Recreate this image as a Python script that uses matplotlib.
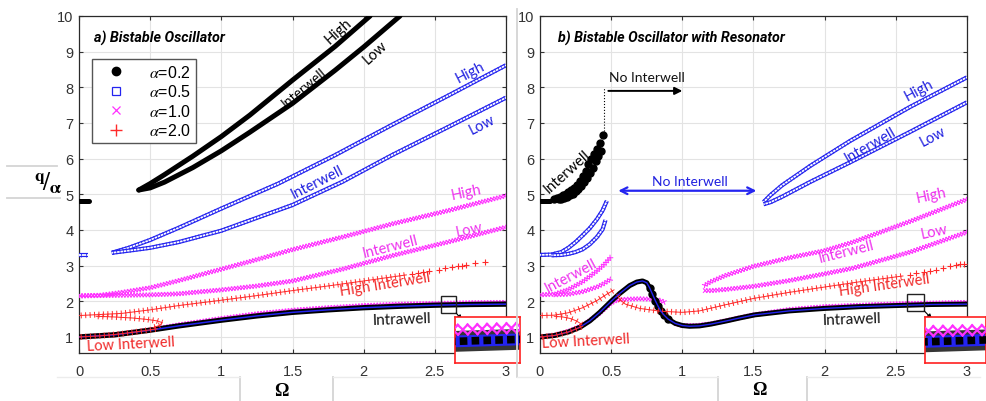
import numpy as np
import matplotlib
matplotlib.use("Agg")
import matplotlib.pyplot as plt
import matplotlib.patheffects as pe
from matplotlib.lines import Line2D
from matplotlib.patches import Rectangle

plt.rcParams['mathtext.fontset'] = 'stix'
plt.rcParams['font.family'] = ['Liberation Sans', 'DejaVu Sans']

# ------------------------------------------------------------------ data
# ---- panel a) Bistable oscillator
a_intra_w = [0.0, 0.25, 0.5, 0.7, 1.0, 1.25, 1.5, 1.75, 2.0, 2.25, 2.5, 2.75, 3.0]
a_intra_02 = [1.0, 1.06, 1.19, 1.31, 1.47, 1.59, 1.69, 1.76, 1.82, 1.86, 1.89, 1.91, 1.92]
a_intra_10 = [1.0, 1.06, 1.20, 1.34, 1.52, 1.65, 1.75, 1.82, 1.88, 1.92, 1.94, 1.96, 1.97]

a_seg02_w = [0.0, 0.07]
a_seg02_q = [4.82, 4.82]
a_seg05_w = [0.0, 0.06]
a_seg05_q = [3.30, 3.30]

a_hi02_w = [0.42, 0.5, 0.6, 0.8, 1.0, 1.2, 1.5, 1.8, 2.045]
a_hi02_q = [5.12, 5.30, 5.55, 6.07, 6.62, 7.22, 8.20, 9.15, 10.0]
a_lo02_w = [0.42, 0.5, 0.6, 0.8, 1.0, 1.2, 1.5, 1.8, 2.0, 2.255]
a_lo02_q = [5.12, 5.18, 5.34, 5.75, 6.22, 6.74, 7.55, 8.48, 9.13, 10.0]

a_hi05_w = [0.23, 0.35, 0.5, 0.7, 1.0, 1.4, 1.8, 2.2, 2.6, 3.0]
a_hi05_q = [3.36, 3.50, 3.72, 4.06, 4.60, 5.30, 6.10, 6.95, 7.78, 8.62]
a_lo05_w = [0.23, 0.35, 0.5, 0.7, 1.0, 1.5, 1.85, 2.2, 2.6, 3.0]
a_lo05_q = [3.36, 3.42, 3.50, 3.66, 3.98, 4.70, 5.35, 6.10, 6.90, 7.71]

a_hi10_w = [0.0, 0.15, 0.3, 0.5, 0.7, 1.0, 1.25, 1.5, 1.85, 2.2, 2.6, 3.0]
a_hi10_q = [2.15, 2.17, 2.25, 2.38, 2.58, 2.90, 3.17, 3.45, 3.80, 4.17, 4.55, 4.96]
a_lo10_w = [0.0, 0.3, 0.5, 0.7, 1.0, 1.25, 1.5, 1.85, 2.2, 2.6, 3.0]
a_lo10_q = [2.15, 2.17, 2.18, 2.21, 2.32, 2.43, 2.57, 2.90, 3.28, 3.67, 4.08]

a_hi20_w = [0.0, 0.3, 0.5, 0.7, 1.0, 1.25, 1.5, 1.75, 2.0, 2.3]
a_hi20_q = [1.60, 1.66, 1.76, 1.88, 2.03, 2.16, 2.30, 2.43, 2.57, 2.74]
a_sp20_w = [2.34, 2.38, 2.42, 2.46, 2.53, 2.57, 2.62, 2.66, 2.69, 2.72, 2.78, 2.85]
a_sp20_q = [2.76, 2.79, 2.82, 2.84, 2.89, 2.92, 2.95, 2.98, 3.00, 3.02, 3.06, 3.10]
a_lo20_w = [0.12, 0.25, 0.38, 0.48, 0.55, 0.585, 0.57, 0.52]
a_lo20_q = [1.58, 1.56, 1.53, 1.49, 1.45, 1.40, 1.33, 1.26]
a_lo20b_w = [0.0, 0.15, 0.3, 0.45, 0.55]
a_lo20b_q = [1.0, 1.03, 1.09, 1.17, 1.23]

# ---- panel b) Bistable oscillator with resonator
b_intra_w = [0, 0.1, 0.2, 0.28, 0.35, 0.42, 0.5, 0.56, 0.63, 0.68, 0.72, 0.75, 0.77,
             0.79, 0.81, 0.83, 0.85, 0.87, 0.9, 0.95, 1.0, 1.05, 1.12, 1.2, 1.31, 1.4,
             1.51, 1.75, 2.0, 2.25, 2.5, 2.75, 3.0]
b_intra_02 = [1.0, 1.04, 1.14, 1.27, 1.45, 1.69, 2.0, 2.22, 2.44, 2.54, 2.57, 2.52, 2.38,
              2.20, 2.02, 1.86, 1.72, 1.62, 1.50, 1.38, 1.32, 1.30, 1.31, 1.36, 1.45, 1.53,
              1.62, 1.73, 1.80, 1.85, 1.88, 1.91, 1.92]
b_drop02_w = [0.77, 0.79, 0.81, 0.83, 0.85, 0.87, 0.9]
b_drop02_q = [2.38, 2.20, 2.02, 1.86, 1.72, 1.62, 1.50]
b_mi10_w = [0.0, 0.1, 0.2, 0.3, 0.4, 0.5, 0.55]
b_mi10_q = [1.0, 1.05, 1.16, 1.33, 1.60, 1.95, 2.05]
b_mi10b_w = [0.95, 1.0, 1.1, 1.2, 1.3, 1.5, 1.75, 2.0, 2.5, 3.0]
b_mi10b_q = [1.37, 1.32, 1.32, 1.37, 1.45, 1.62, 1.77, 1.85, 1.93, 1.97]
b_mid10_w = [0.55, 0.62, 0.7, 0.78, 0.84, 0.88]
b_mid10_q = [2.04, 2.06, 2.07, 2.06, 2.03, 1.97]

b_seg02_w = [0.0, 0.07]
b_seg02_q = [4.82, 4.82]
b_hi02_w = [0.10, 0.12, 0.14, 0.16, 0.18, 0.20, 0.22, 0.24, 0.26, 0.28, 0.30, 0.32,
            0.34, 0.36, 0.38, 0.40, 0.42, 0.445]
b_hi02_q = [4.88, 4.90, 4.93, 4.97, 5.01, 5.06, 5.12, 5.19, 5.27, 5.37, 5.50, 5.66,
            5.84, 6.00, 6.13, 6.28, 6.45, 6.65]
b_lo02_w = [0.13, 0.15, 0.17, 0.19, 0.21, 0.23, 0.25, 0.27, 0.29, 0.31, 0.33, 0.35,
            0.37, 0.39, 0.41, 0.43]
b_lo02_q = [4.87, 4.88, 4.90, 4.93, 4.97, 5.02, 5.08, 5.15, 5.24, 5.34, 5.46, 5.60,
            5.75, 5.92, 6.08, 6.22]

b_hi05_w = [0.0, 0.08, 0.15, 0.2, 0.25, 0.3, 0.35, 0.4, 0.44, 0.47]
b_hi05_q = [3.30, 3.31, 3.38, 3.50, 3.66, 3.85, 4.05, 4.30, 4.55, 4.82]
b_lo05_w = [0.08, 0.15, 0.2, 0.25, 0.3, 0.35, 0.4, 0.44, 0.46]
b_lo05_q = [3.29, 3.30, 3.33, 3.38, 3.46, 3.60, 3.80, 4.02, 4.28]
b_hi05r_w = [1.57, 1.62, 1.7, 1.9, 2.18, 2.6, 3.0]
b_hi05r_q = [4.78, 4.98, 5.25, 5.80, 6.50, 7.45, 8.28]
b_lo05r_w = [1.57, 1.62, 1.7, 1.9, 2.18, 2.6, 3.0]
b_lo05r_q = [4.72, 4.78, 4.93, 5.35, 5.90, 6.75, 7.58]

b_hi10_w = [0.0, 0.1, 0.2, 0.3, 0.4, 0.45, 0.5]
b_hi10_q = [2.18, 2.20, 2.33, 2.55, 2.85, 3.03, 3.25]
b_lo10_w = [0.1, 0.2, 0.3, 0.4, 0.45, 0.5]
b_lo10_q = [2.18, 2.20, 2.27, 2.40, 2.50, 2.63]
b_hi10r_w = [1.15, 1.2, 1.3, 1.5, 1.75, 2.0, 2.2, 2.6, 3.0]
b_hi10r_q = [2.43, 2.55, 2.72, 2.98, 3.22, 3.42, 3.66, 4.24, 4.86]
b_lo10r_w = [1.15, 1.2, 1.3, 1.5, 1.75, 2.0, 2.2, 2.6, 3.0]
b_lo10r_q = [2.30, 2.30, 2.33, 2.42, 2.58, 2.77, 2.93, 3.38, 3.94]

b_hi20_w = [0.0, 0.1, 0.2, 0.3, 0.4, 0.47, 0.52]
b_hi20_q = [1.60, 1.61, 1.68, 1.82, 2.02, 2.20, 2.32]
b_hr20_w = [0.54, 0.56, 0.6, 0.7, 0.85, 1.0, 1.12, 1.3, 1.5, 1.75, 2.0, 2.25, 2.55]
b_hr20_q = [2.20, 2.05, 1.92, 1.80, 1.72, 1.69, 1.73, 1.90, 2.08, 2.25, 2.40, 2.55, 2.71]
b_sp20_w = [2.6, 2.64, 2.7, 2.74, 2.78, 2.83, 2.88, 2.92, 2.95, 2.98]
b_sp20_q = [2.75, 2.78, 2.83, 2.86, 2.89, 2.93, 3.00, 3.03, 3.04, 3.05]
b_lo20_w = [0.1, 0.16, 0.21, 0.25, 0.28, 0.3]
b_lo20_q = [1.58, 1.56, 1.52, 1.46, 1.39, 1.32]
b_lo20b_w = [0.0, 0.1, 0.2, 0.3]
b_lo20b_q = [1.0, 1.04, 1.14, 1.30]

# annotation anchors (panel b)
b_limit_w = 0.45
b_limit_q = [6.7, 8.0]
b_arrow_k = [0.48, 1.0, 7.9]
b_arrow_b = [0.55, 1.52, 5.1]

legend_labels = [r'$\alpha$=0.2', r'$\alpha$=0.5', r'$\alpha$=1.0', r'$\alpha$=2.0']
xticks = [0, 0.5, 1, 1.5, 2, 2.5, 3]
xticklabels = ['0', '0.5', '1', '1.5', '2', '2.5', '3']
yticks = [1, 2, 3, 4, 5, 6, 7, 8, 9, 10]

# ------------------------------------------------------------------ styles
K = '#000000'
BLUE = '#2424f0'
MAG = '#ff30ff'
RED = '#ff2a2a'
T_BLUE = '#2020e0'
T_MAG = '#ee30ee'
T_RED = '#f02828'


def blk(ax, w, q, lw=3.6, z=3):
    ax.plot(w, q, color=K, lw=lw, solid_capstyle='round', solid_joinstyle='round', zorder=z)


def blu(ax, w, q, lw=3.0, z=4):
    ax.plot(w, q, color=BLUE, lw=lw, zorder=z, solid_capstyle='butt',
            path_effects=[pe.Stroke(linewidth=lw, foreground=BLUE),
                          pe.Stroke(linewidth=lw * 0.42, foreground='white'),
                          pe.TickedStroke(spacing=2.4, angle=90, length=lw / 2 / 2.4,
                                          linewidth=0.6, foreground=BLUE),
                          pe.TickedStroke(spacing=2.4, angle=-90, length=lw / 2 / 2.4,
                                          linewidth=0.6, foreground=BLUE)])


def mag(ax, w, q, sp=2.2, ln=0.85, lw=0.75, z=3):
    ax.plot(w, q, color=MAG, lw=lw, zorder=z,
            path_effects=[pe.TickedStroke(spacing=sp, angle=a, length=ln, linewidth=lw,
                                          foreground=MAG) for a in (45, -135, 135, -45)])


def red(ax, w, q, z=3):
    ax.plot(w, q, color=RED, lw=0.7, zorder=z,
            path_effects=[pe.Stroke(linewidth=0.7, foreground=RED),
                          pe.TickedStroke(spacing=3.2, angle=90, length=0.55,
                                          linewidth=0.7, foreground=RED),
                          pe.TickedStroke(spacing=3.2, angle=-90, length=0.55,
                                          linewidth=0.7, foreground=RED)])


def red_pts(ax, w, q):
    ax.plot(w, q, ls='none', marker='+', color=RED, ms=5, mew=0.8, zorder=3)


def setup(ax):
    ax.set_xlim(0, 3)
    ax.set_ylim(0.55, 10)
    ax.set_xticks(xticks)
    ax.set_xticklabels(xticklabels)
    ax.set_yticks(yticks)
    ax.grid(True, color='#e3e3e3', lw=0.8)
    ax.set_axisbelow(True)
    ax.tick_params(direction='in', length=3, width=0.8, colors='#333333',
                   labelsize=10.5, top=True, right=True)
    ax.tick_params(axis='x', pad=8)
    ax.tick_params(axis='y', pad=4)
    for s in ax.spines.values():
        s.set_color('#2a2a2a')
        s.set_linewidth(0.9)


def lbl(ax, x, y, s, c, rot=0, fs=10.5):
    ax.text(x, y, s, color=c, rotation=rot, fontsize=fs, family='Lato',
            ha='center', va='center', rotation_mode='anchor', zorder=6)


def inset(fig, rect, xlim, wk, qk, wm, qm):
    ia = fig.add_axes(rect)
    ia.set_xlim(*xlim)
    ia.set_ylim(1.80, 2.00)
    ia.set_xticks([])
    ia.set_yticks([])
    for s in ia.spines.values():
        s.set_color('#ff2020')
        s.set_linewidth(1.2)
    ia.plot(wk, qk, color='#111111', lw=15, alpha=0.85, zorder=1)
    ia.plot(wk, qk, color=BLUE, lw=8.5, zorder=2)
    ia.plot(wk, qk, color='#000000', lw=5.5, zorder=3, dashes=(1.0, 0.55),
            solid_capstyle='butt', dash_capstyle='butt')
    mag(ia, wm, qm, sp=7.0, ln=0.72, lw=1.6, z=4)
    return ia


# ------------------------------------------------------------------ figure
fig = plt.figure(figsize=(9.87, 4.02), dpi=100)
axA = fig.add_axes([79 / 987, 48 / 402, 427 / 987, 337 / 402])
axB = fig.add_axes([540 / 987, 48 / 402, 427 / 987, 337 / 402])
for ax in (axA, axB):
    setup(ax)

# ---------------- panel a
mag(axA, a_intra_w, a_intra_10)
blk(axA, a_intra_w, a_intra_02, lw=3.8)
axA.plot(a_intra_w, a_intra_02, color=BLUE, lw=1.1, zorder=4)
red(axA, a_lo20b_w, a_lo20b_q, z=5)
blk(axA, a_seg02_w, a_seg02_q)
blk(axA, a_hi02_w, a_hi02_q)
blk(axA, a_lo02_w, a_lo02_q)
blu(axA, a_seg05_w, a_seg05_q)
blu(axA, a_hi05_w, a_hi05_q)
blu(axA, a_lo05_w, a_lo05_q)
mag(axA, a_hi10_w, a_hi10_q)
mag(axA, a_lo10_w, a_lo10_q)
red(axA, a_hi20_w, a_hi20_q)
red_pts(axA, a_sp20_w, a_sp20_q)
red(axA, a_lo20_w, a_lo20_q)

axA.text(0.035, 0.937, 'a) Bistable Oscillator', transform=axA.transAxes,
         fontsize=10.4, fontweight='bold', fontstyle='italic', family='Roboto',
         ha='left', va='center', zorder=7)
lbl(axA, 1.82, 9.58, 'High', K, 42)
lbl(axA, 2.08, 8.99, 'Low', K, 42)
lbl(axA, 1.58, 8.02, 'Interwell', K, 40, fs=10)
lbl(axA, 2.75, 8.43, 'High', T_BLUE, 27)
lbl(axA, 2.83, 6.97, 'Low', T_BLUE, 27)
lbl(axA, 1.67, 5.35, 'Interwell', T_BLUE, 27)
lbl(axA, 2.72, 5.07, 'High', T_MAG, 12)
lbl(axA, 2.74, 4.03, 'Low', T_MAG, 12)
lbl(axA, 2.19, 3.55, 'Interwell', T_MAG, 14)
lbl(axA, 2.15, 2.49, 'High Interwell', T_RED, 9)
lbl(axA, 2.27, 1.50, 'Intrawell', '#111111', 2, fs=11)
lbl(axA, 0.36, 0.80, 'Low Interwell', T_RED, 3)

handles = [Line2D([], [], ls='none', marker='o', color='k', ms=6),
           Line2D([], [], ls='none', marker='s', mfc='none', mec=BLUE, mew=0.9, ms=6),
           Line2D([], [], ls='none', marker='x', color=MAG, ms=6, mew=0.9),
           Line2D([], [], ls='none', marker='+', color=RED, ms=8, mew=1.0)]
leg = axA.legend(handles, legend_labels, loc='upper left', bbox_to_anchor=(0.030, 0.872),
                 borderaxespad=0, fontsize=11.5, frameon=True, fancybox=False,
                 edgecolor='#555555', framealpha=1, handlelength=2.4, handletextpad=0.9,
                 labelspacing=0.22, borderpad=0.3)
leg.get_frame().set_linewidth(1.0)
leg.set_zorder(8)

axA.add_patch(Rectangle((2.54, 1.67), 0.11, 0.48, fill=False, ec='#222222', lw=1.0, zorder=7))

# ---------------- panel b
mag(axB, b_mi10_w, b_mi10_q)
mag(axB, b_mi10b_w, b_mi10b_q)
mag(axB, b_mid10_w, b_mid10_q)
blk(axB, b_intra_w, b_intra_02, lw=3.6)
axB.plot(b_drop02_w, b_drop02_q, ls='none', marker='o', color='k', ms=5, zorder=3)
axB.plot(b_intra_w, b_intra_02, color=BLUE, lw=1.0, zorder=4)
red(axB, b_lo20b_w, b_lo20b_q, z=5)
red(axB, b_lo20_w, b_lo20_q)
red(axB, b_hi20_w, b_hi20_q)
red(axB, b_hr20_w, b_hr20_q)
red_pts(axB, b_sp20_w, b_sp20_q)
blk(axB, b_seg02_w, b_seg02_q)
axB.plot(b_hi02_w, b_hi02_q, ls='none', marker='o', color='k', ms=5, zorder=3)
axB.plot(b_lo02_w, b_lo02_q, ls='none', marker='o', color='k', ms=5, zorder=3)
blu(axB, b_hi05_w, b_hi05_q)
blu(axB, b_lo05_w, b_lo05_q)
blu(axB, b_hi05r_w, b_hi05r_q)
blu(axB, b_lo05r_w, b_lo05r_q)
mag(axB, b_hi10_w, b_hi10_q)
mag(axB, b_lo10_w, b_lo10_q)
mag(axB, b_hi10r_w, b_hi10r_q)
mag(axB, b_lo10r_w, b_lo10r_q)

axB.plot([b_limit_w, b_limit_w], b_limit_q, ls=':', color='k', lw=0.8, zorder=5)
axB.annotate('', xy=(b_arrow_k[1], b_arrow_k[2]), xytext=(b_arrow_k[0], b_arrow_k[2]),
             arrowprops=dict(arrowstyle='-|>', color='k', lw=1.4, mutation_scale=11,
                             shrinkA=0, shrinkB=0), zorder=6)
axB.annotate('', xy=(b_arrow_b[1], b_arrow_b[2]), xytext=(b_arrow_b[0], b_arrow_b[2]),
             arrowprops=dict(arrowstyle='<->', color=BLUE, lw=1.6, mutation_scale=12,
                             shrinkA=0, shrinkB=0), zorder=6)

axB.text(0.042, 0.937, 'b) Bistable Oscillator with Resonator', transform=axB.transAxes,
         fontsize=10.3, fontweight='bold', fontstyle='italic', family='Roboto',
         ha='left', va='center', zorder=7)
lbl(axB, 0.75, 8.28, 'No Interwell', '#111111', 0, fs=10)
lbl(axB, 1.05, 5.38, 'No Interwell', T_BLUE, 0, fs=10)
lbl(axB, 0.19, 5.66, 'Interwell', K, 42)
lbl(axB, 2.66, 7.95, 'High', T_BLUE, 28)
lbl(axB, 2.76, 6.64, 'Low', T_BLUE, 28)
lbl(axB, 2.32, 6.41, 'Interwell', T_BLUE, 30)
lbl(axB, 2.75, 4.98, 'High', T_MAG, 12)
lbl(axB, 2.77, 3.97, 'Low', T_MAG, 12)
lbl(axB, 2.15, 3.41, 'Interwell', T_MAG, 14)
lbl(axB, 0.22, 2.74, 'Interwell', T_MAG, 28)
lbl(axB, 2.42, 2.46, 'High Interwell', T_RED, 8)
lbl(axB, 2.19, 1.50, 'Intrawell', '#111111', 2, fs=11)
lbl(axB, 0.32, 0.89, 'Low Interwell', T_RED, 3)

axB.add_patch(Rectangle((2.58, 1.73), 0.12, 0.47, fill=False, ec='#222222', lw=1.0, zorder=7))

# ---------------- insets
inset(fig, [455 / 987, 38 / 402, 65 / 987, 46 / 402], (2.55, 2.66),
      a_intra_w, a_intra_02, a_intra_w, a_intra_10)
inset(fig, [925 / 987, 38 / 402, 61 / 987, 46 / 402], (2.60, 2.67),
      b_intra_w, b_intra_02, b_mi10b_w, b_mi10b_q)

axA.annotate('', xy=(462 / 987, 1 - 321 / 402), xycoords='figure fraction',
             xytext=(2.65, 1.67), textcoords='data',
             arrowprops=dict(arrowstyle='-|>', color='k', lw=0.8, mutation_scale=7,
                             shrinkA=0, shrinkB=0), annotation_clip=False, zorder=9)
axB.annotate('', xy=(932 / 987, 1 - 320 / 402), xycoords='figure fraction',
             xytext=(2.70, 1.73), textcoords='data',
             arrowprops=dict(arrowstyle='-|>', color='k', lw=0.8, mutation_scale=7,
                             shrinkA=0, shrinkB=0), annotation_clip=False, zorder=9)

# ---------------- axis labels
fig.text(48 / 987, 1 - 183 / 402, r'$^{\mathbf{q}}\!/_{\mathbf{\alpha}}$', fontsize=18,
         ha='center', va='center')
fig.text(281 / 987, 1 - 392 / 402, 'Ω', fontsize=13, fontweight='bold',
         family='Liberation Serif', ha='center', va='center')
fig.text(759 / 987, 1 - 391 / 402, 'Ω', fontsize=13, fontweight='bold',
         family='Liberation Serif', ha='center', va='center')

# faint screenshot frame lines
GL = '#d4d4d4'
for (x0, x1, y0, y1) in [(7, 57, 167, 167), (7, 60, 199, 199),
                         (240, 240, 378, 402), (333, 333, 378, 402),
                         (718, 718, 378, 402), (807, 807, 378, 402),
                         (517, 517, 10, 378)]:
    fig.add_artist(Line2D([x0 / 987, x1 / 987], [1 - y0 / 402, 1 - y1 / 402],
                          color=GL, lw=1.3))
for (x0, x1, y0, y1) in [(57, 240, 378, 378), (333, 500, 378, 378),
                         (517, 718, 378, 378), (807, 980, 378, 378)]:
    fig.add_artist(Line2D([x0 / 987, x1 / 987], [1 - y0 / 402, 1 - y1 / 402],
                          color='#ececec', lw=1.0))

fig.savefig('out.png', dpi=100)
